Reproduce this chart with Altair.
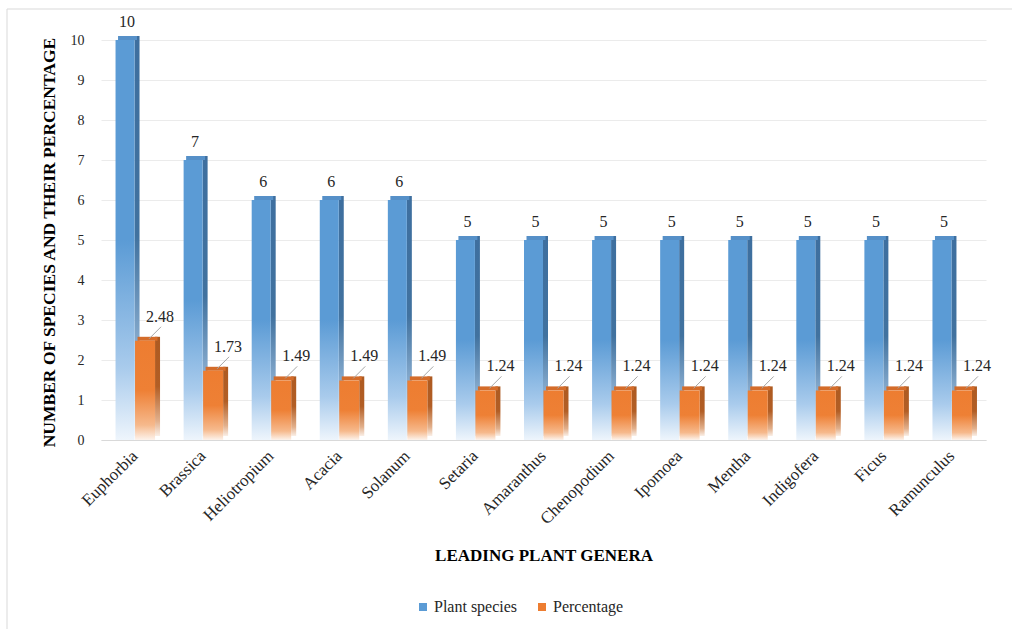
import altair as alt
import pandas as pd

# Leading plant genera: number of species and share of the flora (%)
genera = ["Euphorbia", "Brassica", "Heliotropium", "Acacia", "Solanum", "Setaria",
          "Amaranthus", "Chenopodium", "Ipomoea", "Mentha", "Indigofera", "Ficus",
          "Ramunculus"]
species = [10, 7, 6, 6, 6, 5, 5, 5, 5, 5, 5, 5, 5]
percentage = [2.48, 1.73, 1.49, 1.49, 1.49, 1.24, 1.24, 1.24, 1.24, 1.24, 1.24, 1.24, 1.24]
series_names = ["Plant species", "Percentage"]
y_ticks = list(range(0, 11))

sp = pd.DataFrame({"genus": genera, "value": species, "series": series_names[0]})
pc = pd.DataFrame({"genus": genera, "value": percentage, "series": series_names[1]})
both = pd.concat([sp, pc], ignore_index=True)

FONT = "'Liberation Serif', 'Times New Roman', 'DejaVu Serif', serif"
W, H = 885, 400
BLUE, ORANGE = "#5b9bd5", "#ed7d31"


def grad(stops):
    return alt.Gradient(
        gradient="linear", x1=0, x2=0, y1=0, y2=1,
        stops=[alt.GradientStop(offset=o, color=c) for o, c in stops],
    )


blue_front = grad([(0, "#5b9bd5"), (0.5, "#5b9bd5"), (0.82, "#a9cbec"), (1, "#eef5fc")])
blue_side = grad([(0, "#3e6f9f"), (0.5, "#41729f"), (0.82, "#93b5d6"), (1, "#e6eef7")])
orange_front = grad([(0, "#ed7d31"), (0.5, "#ee8035"), (0.85, "#f6b98c"), (1, "#fdf3ec")])
orange_side = grad([(0, "#ad5a21"), (0.5, "#b25e25"), (0.85, "#e2b08c"), (1, "#faefe7")])

x_enc = alt.X(
    "genus:N", sort=genera,
    scale=alt.Scale(paddingInner=0, paddingOuter=0),
    axis=alt.Axis(
        labelAngle=-45, labelAlign="right", labelBaseline="middle",
        labelFont=FONT, labelFontSize=17, labelColor="#262626", labelPadding=13,
        ticks=False, grid=False, domainColor="#d9d9d9",
        title="LEADING PLANT GENERA", titleFont=FONT, titleFontSize=17,
        titleFontWeight="bold", titleColor="#000000", titleY=115,
        titleBaseline="middle",
    ),
)
y_enc = alt.Y(
    "value:Q",
    scale=alt.Scale(domain=[0, 10], nice=False),
    axis=alt.Axis(
        values=y_ticks, labelFont=FONT, labelFontSize=14, labelColor="#262626",
        labelPadding=17, ticks=False, domain=False, gridColor="#ebebeb",
        title="NUMBER OF SPECIES AND THEIR PERCENTAGE", titleFont=FONT,
        titleFontSize=17.5, titleFontWeight="bold", titleColor="#000000",
        titleX=-52, titleY=202, titleAngle=270, titleAlign="center",
        titleBaseline="middle",
    ),
)

base_sp = alt.Chart(sp)
base_pc = alt.Chart(pc)

# Blue 3-D columns: side face, top face, front face
sp_side = base_sp.mark_bar(width=5, xOffset=2, yOffset=-4, y2Offset=-2, fill=blue_side).encode(x=x_enc, y=y_enc)
sp_top = base_sp.mark_bar(width=19, xOffset=-7.5, yOffset=-4, fill="#5690c8").encode(
    x=x_enc, y=y_enc, y2=alt.Y2("value"))
sp_front = base_sp.mark_bar(width=19, xOffset=-10, fill=blue_front).encode(x=x_enc, y=y_enc)

# Orange 3-D columns
pc_side = base_pc.mark_bar(width=5, xOffset=22.5, yOffset=-4, y2Offset=-2, fill=orange_side).encode(x=x_enc, y=y_enc)
pc_top = base_pc.mark_bar(width=20, xOffset=12.5, yOffset=-4, fill="#d46c2a").encode(
    x=x_enc, y=y_enc, y2=alt.Y2("value"))
pc_front = base_pc.mark_bar(width=20, xOffset=10, fill=orange_front).encode(x=x_enc, y=y_enc)

# Value labels
sp_text = base_sp.mark_text(dx=-8, dy=-18, font=FONT, fontSize=16, color="#262626").encode(
    x=x_enc, y=y_enc, text=alt.Text("value:Q"))
pc_leader = base_pc.mark_rule(xOffset=14, x2Offset=26, yOffset=-2, y2Offset=-14,
                              color="#a6a6a6", strokeWidth=1).encode(
    x=x_enc, x2=alt.X2("genus"), y=y_enc, y2=alt.Y2("value"))
pc_text = base_pc.mark_text(dx=25, dy=-24, font=FONT, fontSize=16, color="#262626").encode(
    x=x_enc, y=y_enc, text=alt.Text("value:Q", format=".2f"))

# Legend carrier (invisible points)
legend_layer = alt.Chart(both).mark_point(shape="square", filled=True, opacity=0).encode(
    x=x_enc, y=y_enc,
    color=alt.Color(
        "series:N",
        scale=alt.Scale(domain=series_names, range=[BLUE, ORANGE]),
        legend=alt.Legend(
            orient="none", legendX=314, legendY=559, direction="horizontal",
            title=None, symbolType="square", symbolSize=64, symbolOpacity=1,
            symbolStrokeWidth=0, labelFont=FONT, labelFontSize=16,
            labelColor="#262626", columnPadding=16, labelOffset=3,
        ),
    ),
)

# Outer chart frame
frame = alt.Chart(alt.Data(values=[{}])).mark_rect(
    filled=False, stroke="#d9d9d9", strokeWidth=1
).encode(x=alt.value(-94), x2=alt.value(W + 60), y=alt.value(-31), y2=alt.value(H + 220))

chart = alt.layer(
    frame, sp_side, sp_top, sp_front, pc_side, pc_top, pc_front,
    sp_text, pc_leader, pc_text, legend_layer,
).properties(
    width=W, height=H,
    autosize=alt.AutoSizeParams(type="none"),
    padding={"left": 101, "top": 40, "right": 26, "bottom": 189},
    background="#ffffff",
).configure_view(strokeWidth=0)

chart.save("out.html", embed_options={"renderer": "svg", "actions": False})
